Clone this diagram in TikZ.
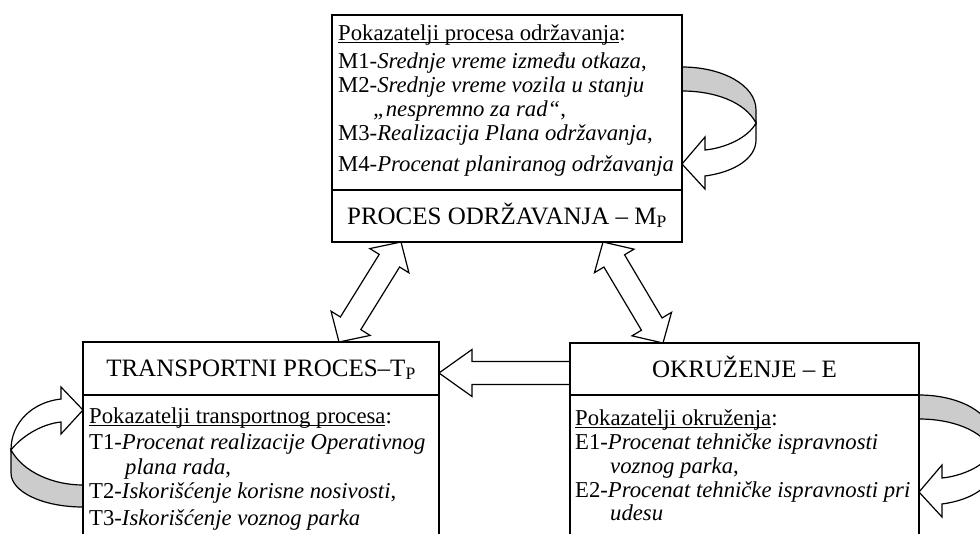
\documentclass[tikz,border=0pt]{standalone}
\usepackage{fontspec}
\setmainfont{Liberation Serif}
\usetikzlibrary{calc}

% underline sitting just below the baseline
\newcommand\undl[1]{\setbox0=\hbox{#1}\rlap{\rule[-2.4pt]{\wd0}{0.9pt}}\box0}

\tikzset{
  boxframe/.style={draw=black, line width=1.3pt},
  boxarea/.style={rectangle, inner sep=0pt, outer sep=0pt, anchor=north west},
  arr/.style={draw=black, line width=1.2pt, fill=white, line join=miter},
  band/.style={draw=black, line width=1.2pt, fill=black!20},
  headtxt/.style={font=\fontsize{25}{30}\selectfont, inner sep=0pt, anchor=base},
  bodytxt/.style={font=\fontsize{22.7}{27}\selectfont, inner sep=0pt, anchor=base west},
}

% double-headed block arrow between two named points
\newcommand\dblarrow[2]{%
  \path ($(#1)!22pt!(#2)$) coordinate (h1) ($(#2)!22pt!(#1)$) coordinate (h2);
  \draw[arr] (#1) -- ($(h1)!23pt!90:(#1)$) -- ($(h1)!12pt!90:(#1)$)
    -- ($(h2)!12pt!-90:(#2)$) -- ($(h2)!23pt!-90:(#2)$) -- (#2)
    -- ($(h2)!23pt!90:(#2)$) -- ($(h2)!12pt!90:(#2)$)
    -- ($(h1)!12pt!-90:(#1)$) -- ($(h1)!23pt!-90:(#1)$) -- cycle;}

% feedback loop leaving and re-entering a box on its right side
\newcommand\loopright{%
  \path[band] (0,52) .. controls (40,52) and (74,70) .. (74,95) -- (74,108)
    .. controls (63,87) and (33,76) .. (0,76) -- cycle;
  \path[arr] (74,108) .. controls (66,123) and (43,133) .. (23,135)
    -- (23,122) -- (0,149) -- (23,174) -- (23,161)
    .. controls (53,157) and (74,143) .. (74,125) -- cycle;}

\begin{document}
\begin{tikzpicture}[x=1pt, y=-1pt]
\useasboundingbox (0,0) rectangle (980,533);
\clip (0,0) rectangle (980,533);

% the three process boxes
\node[boxarea, minimum width=350pt, minimum height=227pt] (mp) at (332,15) {};
\node[boxarea, minimum width=356pt, minimum height=250pt] (tp) at (83,342) {};
\node[boxarea, minimum width=349pt, minimum height=250pt] (ok) at (570,343) {};

% connections between the processes
\coordinate (la1) at ($(mp.south west)+(69,0)$);
\coordinate (la2) at ($(tp.north west)+(256,0)$);
\coordinate (ra1) at ($(mp.south west)+(271,0)$);
\coordinate (ra2) at ($(ok.north west)+(93,0)$);
\dblarrow{la1}{la2}
\dblarrow{ra1}{ra2}

\coordinate (st) at ($(tp.north east)+(0,31)$);
\coordinate (se) at ($(ok.north west)+(0,30)$);
\draw[arr] (st) -- ($(st)+(33,-23.5)$) -- ($(st)+(33,-11.5)$)
  -- ($(se)+(0,-11.5)$) -- ($(se)+(0,11.5)$) -- ($(st)+(33,11.5)$)
  -- ($(st)+(33,23.5)$) -- cycle;

% feedback loops
\begin{scope}[shift={(mp.north east)}]\loopright\end{scope}
\begin{scope}[shift={(ok.north east)}]\loopright\end{scope}
\begin{scope}[shift={(tp.north west)}]
  \path[band] (-72,108) .. controls (-60,130) and (-30,143) .. (0,143) -- (0,165)
    .. controls (-40,165) and (-72,150) .. (-72,131) -- cycle;
  \path[arr] (0,68) -- (-22,45) -- (-22,57) .. controls (-50,60) and (-72,80) .. (-72,108)
    .. controls (-62,95) and (-42,82) .. (-22,80) -- (-22,92) -- cycle;
\end{scope}

% frames and dividers
\draw[boxframe] (mp.north west) rectangle (mp.south east);
\draw[boxframe] (tp.north west) rectangle (tp.south east);
\draw[boxframe] (ok.north west) rectangle (ok.south east);
\draw[boxframe] ($(mp.north west)+(0,175)$) -- ($(mp.north east)+(0,175)$);
\draw[boxframe] ($(tp.north west)+(0,53)$) -- ($(tp.north east)+(0,53)$);
\draw[boxframe] ($(ok.north west)+(0,52)$) -- ($(ok.north east)+(0,52)$);

% maintenance process
\node[bodytxt] (m0) at (338,40) {\undl{Pokazatelji procesa održavanja}:};
\node[bodytxt] (m1) at (338,68) {M1-\textit{Srednje vreme između otkaza},};
\node[bodytxt] (m2) at (338,92) {M2-\textit{Srednje vreme vozila u stanju}};
\node[bodytxt] (m2b) at (373,116) {\textit{„nespremno za rad“},};
\node[bodytxt] (m3) at (338,140) {M3-\textit{Realizacija Plana održavanja},};
\node[bodytxt] (m4) at (338,171) {M4-\textit{Procenat planiranog održavanja}};
\node[headtxt] (mpt) at (507,224) {PROCES ODRŽAVANJA – M\textsubscript{P}};

% transport process
\node[headtxt] (tpt) at (261,376) {TRANSPORTNI PROCES–T\textsubscript{P}};
\node[bodytxt] (t0) at (89,423) {\undl{Pokazatelji transportnog procesa}:};
\node[bodytxt] (t1) at (89,449) {T1-\textit{Procenat realizacije Operativnog}};
\node[bodytxt] (t1b) at (125,474) {\textit{plana rada},};
\node[bodytxt] (t2) at (89,498) {T2-\textit{Iskorišćenje korisne nosivosti},};
\node[bodytxt] (t3) at (89,525) {T3-\textit{Iskorišćenje voznog parka}};

% environment
\node[headtxt] (okt) at (744.5,377) {OKRUŽENJE – E};
\node[bodytxt] (e0) at (575,425) {\undl{Pokazatelji okruženja}:};
\node[bodytxt] (e1) at (575,449) {E1-\textit{Procenat tehničke ispravnosti}};
\node[bodytxt] (e1b) at (610,473) {\textit{voznog parka},};
\node[bodytxt] (e2) at (575,497) {E2-\textit{Procenat tehničke ispravnosti pri}};
\node[bodytxt] (e2b) at (610,520) {\textit{udesu}};
\end{tikzpicture}
\end{document}
